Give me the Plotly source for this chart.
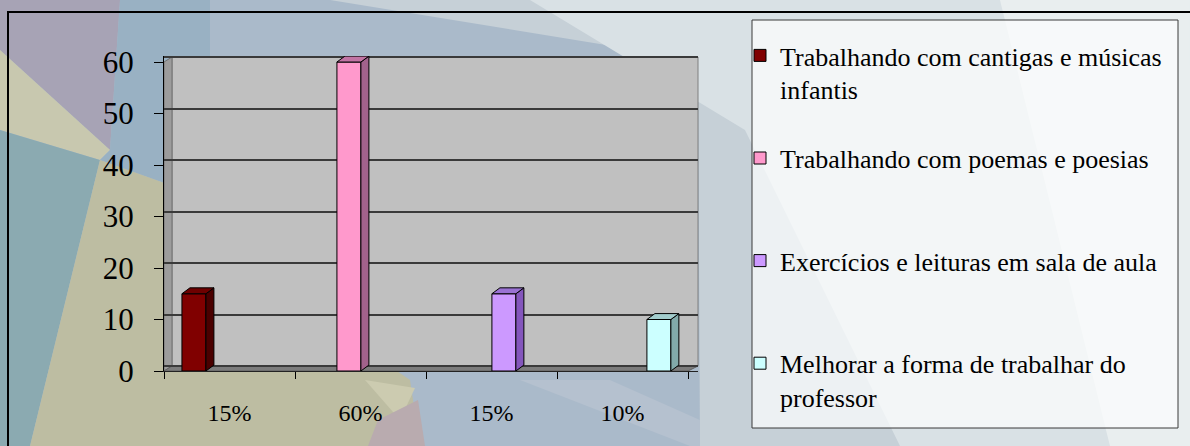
import plotly.graph_objects as go

# ---------------- data ----------------
categories = ["15%", "60%", "15%", "10%"]
series_names = [
    "Trabalhando com cantigas e músicas<br>infantis",
    "Trabalhando com poemas e poesias<br> ",
    "Exercícios e leituras em sala de aula<br> ",
    "Melhorar a forma de trabalhar do<br>professor",
]
s_cantigas = [15, None, None, None]
s_poemas = [None, 60, None, None]
s_exercicios = [None, None, 15, None]
s_melhorar = [None, None, None, 10]
series_values = [s_cantigas, s_poemas, s_exercicios, s_melhorar]
y_ticks = [0, 10, 20, 30, 40, 50, 60]

# ---------------- styles ----------------
front_colors = ["#800000", "#FF99CC", "#CC99FF", "#CCFFFF"]
side_colors = ["#4a0000", "#a2628c", "#8456bc", "#82aaaa"]
top_colors = ["#6e0000", "#c274a4", "#9a72d4", "#a2cccc"]
FONT = "Liberation Serif, Times New Roman, serif"

W, H = 1190, 446
L, R, T, B = 164, 698, 56, 371
Y_TOP = 61.17
X_RANGE = [-0.5, 3.576]
BAR_W = 0.183
BAR_START = -0.363
DX = 0.061   # depth in x units
DY = 1.15    # depth in y units


def px(x):
    return (x - L) / (R - L)


def py(y):
    return (B - y) / (B - T)


def poly(points):
    return "M " + " L ".join(f"{px(a):.4f},{py(b):.4f}" for a, b in points) + " Z"


fig = go.Figure()

# front faces (bars)
for s, (name, vals) in enumerate(zip(series_names, series_values)):
    fig.add_trace(go.Bar(
        x=list(range(len(categories))), y=vals, name=name,
        offset=BAR_START + BAR_W * s, width=BAR_W,
        marker=dict(color=front_colors[s], line=dict(color="#000000", width=1)),
        legendgroup=f"g{s}", hoverinfo="skip",
    ))

# 3-D side and top faces derived from the same values
for s, vals in enumerate(series_values):
    sx, sy, tx, ty = [], [], [], []
    for c, v in enumerate(vals):
        if v is None:
            continue
        x0 = c + BAR_START + BAR_W * s
        x1 = x0 + BAR_W
        sx += [x1, x1 + DX, x1 + DX, x1, x1, None]
        sy += [0, DY, v + DY, v, 0, None]
        tx += [x0, x0 + DX, x1 + DX, x1, x0, None]
        ty += [v, v + DY, v + DY, v, v, None]
    fig.add_trace(go.Scatter(x=sx, y=sy, mode="lines", fill="toself",
                             fillcolor=side_colors[s], line=dict(color="#000000", width=1),
                             showlegend=False, hoverinfo="skip", legendgroup=f"g{s}"))
    fig.add_trace(go.Scatter(x=tx, y=ty, mode="lines", fill="toself",
                             fillcolor=top_colors[s], line=dict(color="#000000", width=1),
                             showlegend=False, hoverinfo="skip", legendgroup=f"g{s}"))

# helper trace for the back-wall grid axis
fig.add_trace(go.Scatter(x=[], y=[], yaxis="y2", showlegend=False, hoverinfo="skip"))

# ---------------- background decoration ----------------
bg = [
    ("#C6D0D7", [(330, 0), (1190, 0), (1190, 446), (700, 446), (698, 60)]),
    ("#D9E1E5", [(530, 0), (1190, 0), (1190, 446), (900, 446), (745, 130)]),
    ("#E9EEEF", [(1000, 0), (1190, 0), (1190, 446), (1110, 446)]),
    ("#A7A3B5", [(0, 0), (120, 0), (110, 150), (0, 50)]),
    ("#C8C8AF", [(0, 50), (110, 150), (100, 160), (0, 130)]),
    ("#99B1C3", [(120, 0), (210, 0), (210, 210), (170, 185), (100, 160), (110, 150)]),
    ("#8BAAB1", [(0, 130), (100, 160), (30, 446), (0, 446)]),
    ("#BDBDA2", [(100, 160), (170, 185), (250, 270), (410, 380), (420, 446), (30, 446)]),
    ("#CCCBB0", [(365, 380), (415, 388), (400, 420)]),
    ("#B9ABAF", [(378, 420), (418, 400), (425, 446), (368, 446)]),
    ("#B5C1CF", [(520, 380), (610, 380), (700, 420), (700, 446), (690, 446)]),
]
shapes = []
for color, pts in bg:
    shapes.append(dict(type="path", xref="paper", yref="paper", path=poly(pts),
                       fillcolor=color, line=dict(width=0), layer="below"))

# outer frame
shapes.append(dict(type="rect", xref="paper", yref="paper",
                   x0=px(8), x1=px(1200), y0=py(460), y1=py(12),
                   line=dict(color="#000000", width=2), fillcolor="rgba(0,0,0,0)", layer="below"))
# legend box
shapes.append(dict(type="rect", xref="paper", yref="paper",
                   x0=px(752), x1=px(1178), y0=py(428), y1=py(20),
                   line=dict(color="#3a3a3a", width=1), fillcolor="rgba(252,253,253,0.72)", layer="below"))
# chart walls
shapes.append(dict(type="path", xref="paper", yref="paper",
                   path=poly([(172, 57), (698, 57), (698, 366), (172, 366)]),
                   fillcolor="#C0C0C0", line=dict(color="#808080", width=1), layer="below"))
shapes.append(dict(type="path", xref="paper", yref="paper",
                   path=poly([(164, 62), (172, 57), (172, 366), (164, 371)]),
                   fillcolor="#9C9C9C", line=dict(color="#707070", width=1), layer="below"))
shapes.append(dict(type="path", xref="paper", yref="paper",
                   path=poly([(164, 371), (172, 366), (698, 366), (688, 371)]),
                   fillcolor="#7C7C7C", line=dict(color="#606060", width=1), layer="below"))

fig.update_layout(
    width=W, height=H,
    margin=dict(l=L, r=W - R, t=T, b=H - B, autoexpand=False),
    paper_bgcolor="#AABACA",
    plot_bgcolor="rgba(0,0,0,0)",
    barmode="overlay",
    shapes=shapes,
    showlegend=True,
    legend=dict(x=px(740), y=py(32), xanchor="left", yanchor="top",
                bgcolor="rgba(0,0,0,0)", borderwidth=0, maxheight=440,
                font=dict(family=FONT, size=26, color="#000000"),
                valign="top", traceorder="grouped", tracegroupgap=32),
    xaxis=dict(range=X_RANGE, tickmode="array", tickvals=list(range(len(categories))),
               ticktext=categories, ticks="", showgrid=False, zeroline=False,
               showline=True, linecolor="#222222", linewidth=1,
               tickfont=dict(family=FONT, size=24, color="#000000"),
               ticklabelstandoff=20,
               minor=dict(ticks="outside", tick0=-0.5, dtick=1, ticklen=7,
                          tickcolor="#000000", tickwidth=1, showgrid=False)),
    yaxis=dict(range=[0, Y_TOP], tickmode="array", tickvals=y_ticks,
               ticks="outside", ticklen=9, tickcolor="#000000", showgrid=False,
               zeroline=False, showline=True, linecolor="#000000", linewidth=1,
               tickfont=dict(family=FONT, size=31, color="#000000"),
               ticklabelstandoff=14),
    yaxis2=dict(overlaying="y", range=[-0.97, Y_TOP - 0.97], tickmode="linear",
                tick0=0, dtick=10, showgrid=True, gridcolor="#3a3a3a", gridwidth=2,
                showticklabels=False, ticks="", showline=False, zeroline=False),
    font=dict(family=FONT),
)

fig.write_html("out.html")
